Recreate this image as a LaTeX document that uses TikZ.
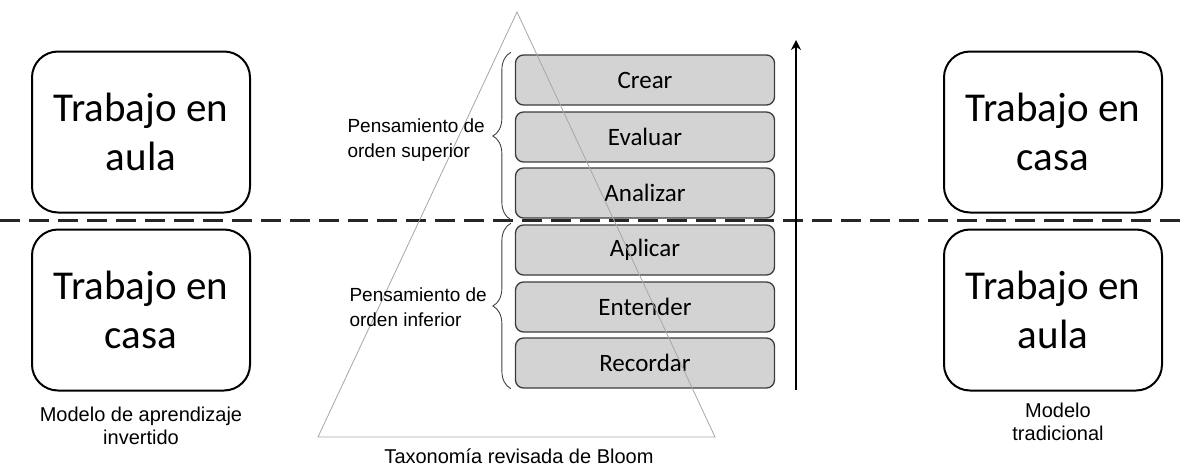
\documentclass[tikz,border=0pt]{standalone}
\usepackage{fontspec}
\setmainfont{Carlito}
\newfontfamily\labelfont{Liberation Sans}
\usetikzlibrary{decorations.pathreplacing, arrows.meta}
\definecolor{levelgray}{HTML}{D3D3D3}
\definecolor{levelline}{HTML}{3C3C3C}
\tikzset{
  workbox/.style={draw, line width=2pt, rounded corners=26pt, minimum width=218pt, minimum height=161pt, align=center, font=\fontsize{41}{49}\selectfont},
  levelbox/.style={draw=levelline, fill=levelgray, line width=1.3pt, rounded corners=8pt, minimum width=259pt, minimum height=50pt, font=\fontsize{25}{30}\selectfont},
  caption/.style={align=center, font=\labelfont\fontsize{20}{23}\selectfont},
  bracelabel/.style={align=left, anchor=west, font=\labelfont\fontsize{19}{25}\selectfont}
}
\begin{document}
\begin{tikzpicture}[x=1pt, y=-1pt]
  \useasboundingbox (0,0) rectangle (1180,466);

  % Dividing line between the two halves
  \coordinate (dashL) at (0,220);
  \coordinate (dashR) at (1180,220);
  \draw[line width=3pt, black!85, dash pattern=on 20pt off 9pt] (dashL) -- (dashR);

  % Flipped model (left)
  \node[workbox] (flipup) at (141,132) {Trabajo en\\aula};
  \node[workbox] (flipdown) at (141,310) {Trabajo en\\casa};
  \node[caption] (flipname) at (141,426) {Modelo de aprendizaje\\invertido};

  % Traditional model (right)
  \node[workbox] (tradup) at (1053,132) {Trabajo en\\casa};
  \node[workbox] (traddown) at (1053,310) {Trabajo en\\aula};
  \node[caption] (tradname) at (1058,422) {Modelo\\tradicional};

  % Bloom levels
  \node[levelbox] (crear) at (645,80) {Crear};
  \node[levelbox] (evaluar) at (645,137) {Evaluar};
  \node[levelbox] (analizar) at (645,193) {Analizar};
  \node[levelbox] (aplicar) at (645,250) {Aplicar};
  \node[levelbox] (entender) at (645,307) {Entender};
  \node[levelbox] (recordar) at (645,363) {Recordar};

  % Pyramid
  \coordinate (apex) at (517,12);
  \coordinate (baseL) at (318,437);
  \coordinate (baseR) at (715,437);
  \draw[gray!70, line width=0.8pt] (apex) -- (baseR) -- (baseL) -- cycle;
  \node[caption] (bloom) at (519,456) {Taxonom\'ia revisada de Bloom};

  % Braces for the two kinds of thinking
  \draw[decorate, decoration={brace, amplitude=18pt}, line width=0.9pt, black!75]
    ([xshift=-4pt,yshift=-1pt]analizar.south west) -- ([xshift=-4pt,yshift=2pt]crear.north west);
  \draw[decorate, decoration={brace, amplitude=18pt}, line width=0.9pt, black!75]
    ([xshift=-4pt]recordar.south west) -- ([xshift=-4pt,yshift=1pt]aplicar.north west);
  \node[bracelabel] (superior) at (344,140) {Pensamiento de\\orden superior};
  \node[bracelabel] (inferior) at (346,307) {Pensamiento de\\orden inferior};

  % Upward arrow
  \coordinate (arrowlow) at (796,390);
  \coordinate (arrowhigh) at (796,40);
  \draw[-{Stealth[length=10pt, width=10pt]}, line width=2pt] (arrowlow) -- (arrowhigh);

\end{tikzpicture}
\end{document}
